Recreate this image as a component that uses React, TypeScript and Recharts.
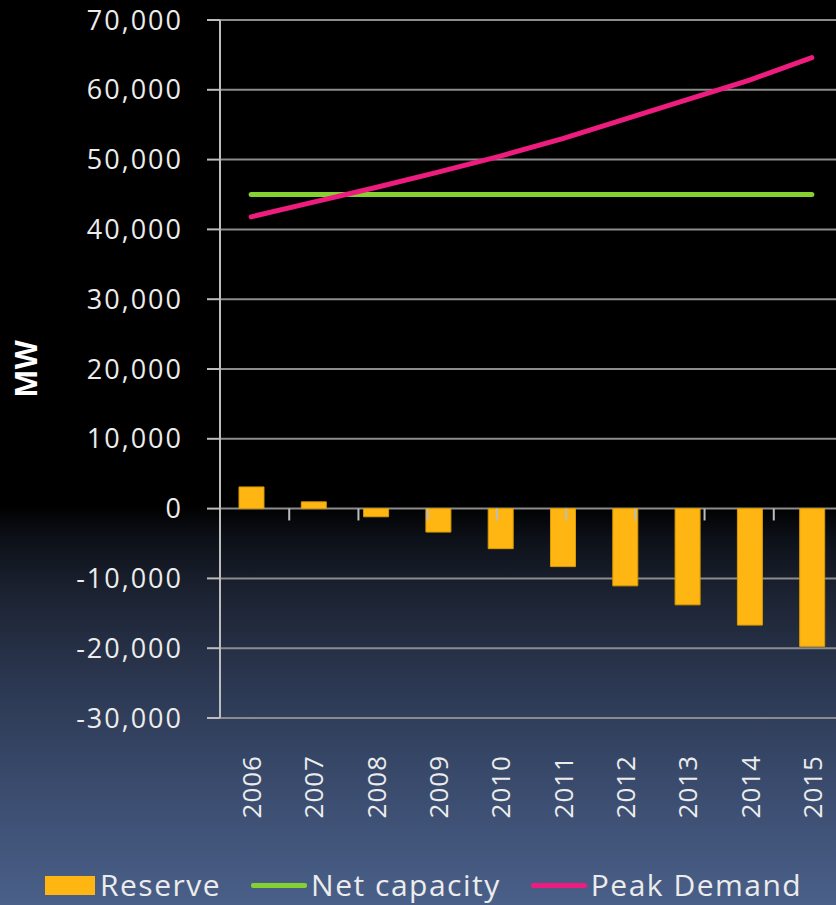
import React from 'react';
import {
  ComposedChart,
  Bar,
  Line,
  XAxis,
  YAxis,
  CartesianGrid,
  Legend,
  ReferenceLine,
} from 'recharts';

// Reserve margin outlook (MW), 2006–2015
const years = ['2006', '2007', '2008', '2009', '2010', '2011', '2012', '2013', '2014', '2015'];
const reserve = [3100, 970, -1170, -3360, -5740, -8310, -11070, -13790, -16690, -19740];
const netCapacity = [45000, 45000, 45000, 45000, 45000, 45000, 45000, 45000, 45000, 45000];
const peakDemand = [41800, 43900, 46000, 48200, 50500, 53000, 55800, 58600, 61400, 64600];
const yTicks = [-30000, -20000, -10000, 0, 10000, 20000, 30000, 40000, 50000, 60000, 70000];
const seriesNames = ['Reserve', 'Net capacity', 'Peak Demand'];
// category boundaries on a 0..N numeric scale, used for the tick marks on the zero line
const categoryBoundaries = [1, 2, 3, 4, 5, 6, 7, 8, 9];

const data = years.map((year, i) => ({
  year,
  reserve: reserve[i],
  netCapacity: netCapacity[i],
  peakDemand: peakDemand[i],
}));

const FONT = '"Open Sans", "DejaVu Sans", sans-serif';
const TEXT = '#ececec';
const TICK_DEPTH = -1700; // downward length of the category tick marks, in MW

function YearTick(props: any) {
  const { x, y, payload } = props;
  const ty = y + 37;
  return (
    <text
      x={x}
      y={ty}
      transform={`rotate(-90, ${x}, ${ty})`}
      textAnchor="end"
      dominantBaseline="central"
      fill={TEXT}
      fontSize={26}
      fontFamily={FONT}
      letterSpacing={1}
    >
      {payload.value}
    </text>
  );
}

function LegendContent(props: any) {
  const { payload = [] } = props;
  const items = [...payload].sort(
    (a: any, b: any) => seriesNames.indexOf(a.value) - seriesNames.indexOf(b.value)
  );
  return (
    <div
      style={{
        display: 'flex',
        alignItems: 'center',
        fontFamily: FONT,
        fontSize: 30,
        letterSpacing: 1.5,
        color: TEXT,
        height: 30,
        lineHeight: '30px',
        whiteSpace: 'nowrap',
      }}
    >
      {items.map((entry: any, i: number) => (
        <div key={i} style={{ display: 'flex', alignItems: 'center', marginRight: 30 }}>
          {entry.type === 'rect' ? (
            <span
              style={{
                display: 'inline-block',
                width: 50,
                height: 19,
                background: entry.color,
                marginRight: 5,
              }}
            />
          ) : (
            <span
              style={{
                display: 'inline-block',
                width: 56,
                height: 5,
                borderRadius: 2,
                background: entry.color,
                marginRight: 4,
              }}
            />
          )}
          <span>{entry.value}</span>
        </div>
      ))}
    </div>
  );
}

function AxisTitle() {
  const cx = 25;
  const cy = 369;
  return (
    <text
      x={cx}
      y={cy}
      transform={`rotate(-90, ${cx}, ${cy})`}
      textAnchor="middle"
      dominantBaseline="central"
      fill="#ffffff"
      fontSize={30}
      fontWeight="bold"
      fontFamily={FONT}
    >
      MW
    </text>
  );
}

export default function App() {
  return (
    <div
      style={{
        position: 'fixed',
        left: 0,
        top: 0,
        width: 836,
        height: 905,
        overflow: 'hidden',
        background:
          'linear-gradient(180deg, #000000 0px, #000000 505px, #0d1119 540px, #1d2434 600px, #2b3750 680px, #394a6c 780px, #4a6089 905px)',
      }}
    >
      <ComposedChart
        width={850}
        height={905}
        data={data}
        margin={{ top: 20, right: 7, left: 0, bottom: 5 }}
      >
        <CartesianGrid horizontal vertical={false} stroke="#8c8c8c" strokeWidth={2} />
        <XAxis
          dataKey="year"
          xAxisId="cat"
          height={152}
          axisLine={false}
          tickLine={false}
          tickSize={0}
          tickMargin={0}
          interval={0}
          tick={<YearTick />}
        />
        <XAxis xAxisId="grid" type="number" domain={[0, years.length]} hide />
        <YAxis
          width={220}
          domain={[-30000, 70000]}
          ticks={yTicks}
          interval={0}
          allowDataOverflow
          axisLine={{ stroke: '#bdbdbd', strokeWidth: 2 }}
          tickLine={{ stroke: '#bdbdbd', strokeWidth: 2 }}
          tickSize={13}
          tickMargin={24}
          tickFormatter={(v: number) => v.toLocaleString('en-US')}
          tick={{ fill: TEXT, fontSize: 27, fontFamily: FONT, letterSpacing: 2 }}
          label={<AxisTitle />}
        />
        {categoryBoundaries.map((b) => (
          <ReferenceLine
            key={b}
            xAxisId="grid"
            segment={[
              { x: b, y: 0 },
              { x: b, y: TICK_DEPTH },
            ]}
            stroke="#bdbdbd"
            strokeWidth={2}
          />
        ))}
        <Bar
          xAxisId="cat"
          dataKey="reserve"
          name="Reserve"
          fill="#FFB612"
          stroke="#d99a00"
          strokeWidth={1}
          barSize={25}
          legendType="rect"
          isAnimationActive={false}
        />
        <Line
          xAxisId="cat"
          dataKey="netCapacity"
          name="Net capacity"
          stroke="#84D12F"
          strokeWidth={5}
          strokeLinecap="round"
          dot={false}
          activeDot={false}
          legendType="line"
          isAnimationActive={false}
        />
        <Line
          xAxisId="cat"
          dataKey="peakDemand"
          name="Peak Demand"
          stroke="#EE1C7E"
          strokeWidth={5}
          strokeLinecap="round"
          dot={false}
          activeDot={false}
          legendType="line"
          isAnimationActive={false}
        />
        <Legend
          verticalAlign="bottom"
          content={<LegendContent />}
          wrapperStyle={{ left: 45, bottom: 5, width: 790, height: 30 }}
        />
      </ComposedChart>
    </div>
  );
}
